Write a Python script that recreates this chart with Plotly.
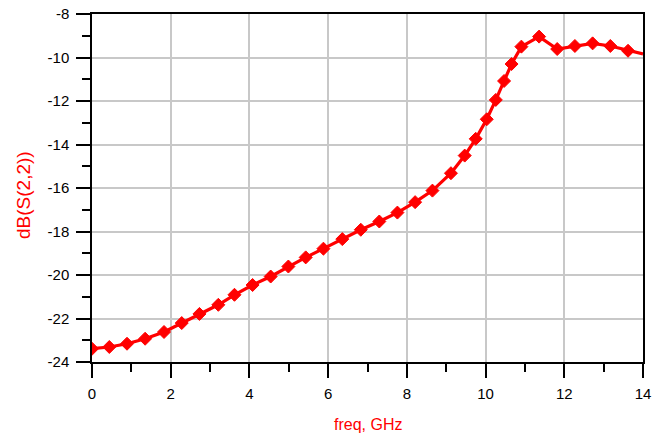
import plotly.graph_objects as go

# S22 return loss sweep (marker points along the trace)
freq_ghz = [0.00, 0.44, 0.89, 1.35, 1.83, 2.28, 2.73, 3.21, 3.62, 4.08,
            4.54, 4.99, 5.43, 5.88, 6.36, 6.83, 7.30, 7.76, 8.21, 8.65,
            9.12, 9.47, 9.75, 10.03, 10.26, 10.47, 10.66, 10.91, 11.36,
            11.82, 12.27, 12.72, 13.17, 13.62, 14.00]
s22_db = [-23.39, -23.31, -23.16, -22.93, -22.62, -22.21, -21.79, -21.37,
          -20.91, -20.46, -20.07, -19.61, -19.19, -18.79, -18.35, -17.92,
          -17.54, -17.13, -16.65, -16.12, -15.32, -14.51, -13.74, -12.84,
          -11.95, -11.08, -10.30, -9.50, -9.04, -9.61, -9.47, -9.35, -9.47,
          -9.69, -9.84]

x_ticks = [0, 2, 4, 6, 8, 10, 12, 14]
y_ticks = [-24, -22, -20, -18, -16, -14, -12, -10, -8]

fig = go.Figure()
# trace line through every sample
fig.add_trace(go.Scatter(
    x=freq_ghz, y=s22_db, mode="lines",
    line=dict(color="#ff0000", width=3.2),
    showlegend=False, hoverinfo="skip",
))
# diamond markers (the final sample on the frame edge has none)
fig.add_trace(go.Scatter(
    x=freq_ghz[:-1], y=s22_db[:-1], mode="markers",
    marker=dict(symbol="diamond", size=10, color="#ff0000", opacity=1,
                line=dict(width=1, color="#ff0000")),
    showlegend=False,
))

axis_font = dict(family="Liberation Sans, Arial, sans-serif", size=15, color="#000000")

fig.update_xaxes(
    range=[0, 14], tickvals=x_ticks, ticktext=[str(v) for v in x_ticks],
    showgrid=True, gridcolor="#c8c8c8", gridwidth=1.5,
    showline=True, linecolor="#000000", linewidth=1.5, mirror=True,
    ticks="outside", ticklen=14, tickwidth=1.5, tickcolor="#000000",
    minor=dict(dtick=1, tick0=0, ticks="outside", ticklen=8, tickwidth=1.5,
               tickcolor="#000000", showgrid=False),
    tickfont=axis_font, zeroline=False, ticklabelstandoff=3, automargin=False,
)
fig.update_yaxes(
    range=[-24, -8], tickvals=y_ticks, ticktext=[str(v) for v in y_ticks],
    showgrid=True, gridcolor="#c8c8c8", gridwidth=1.5,
    showline=True, linecolor="#000000", linewidth=1.5, mirror=True,
    ticks="outside", ticklen=14, tickwidth=1.5, tickcolor="#000000",
    minor=dict(dtick=1, tick0=-24, ticks="outside", ticklen=8, tickwidth=1.5,
               tickcolor="#000000", showgrid=False),
    tickfont=axis_font, zeroline=False, ticklabelstandoff=4, automargin=False,
)

fig.add_annotation(text="freq, GHz", xref="paper", yref="paper", x=0.5, y=0,
                   xanchor="center", yanchor="middle", yshift=-62,
                   showarrow=False,
                   font=dict(family="Liberation Sans, Arial, sans-serif",
                             size=16, color="#ff0000"))
fig.add_annotation(text="dB(S(2,2))", xref="paper", yref="paper", x=0, y=0.5,
                   xanchor="center", yanchor="middle", xshift=-69, yshift=-7,
                   textangle=-90, showarrow=False,
                   font=dict(family="Liberation Sans, Arial, sans-serif",
                             size=19, color="#ff0000"))

fig.update_layout(
    width=668, height=438,
    margin=dict(l=92, r=25, t=14, b=76),
    paper_bgcolor="#ffffff", plot_bgcolor="#ffffff",
)

fig.write_html("out.html")
